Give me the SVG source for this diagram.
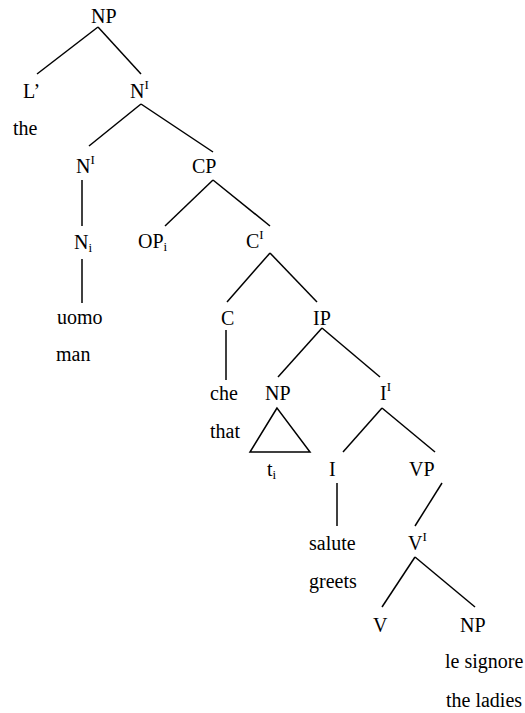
<svg xmlns="http://www.w3.org/2000/svg" width="525" height="713" viewBox="0 0 525 713">
<style>
text{font-family:'Liberation Serif','DejaVu Serif',serif;font-size:20px;fill:#000}
.sup{font-size:13px}
.sub{font-size:13px}
#connectors line,#connectors polygon{stroke:#000;stroke-width:1.5;fill:none}
</style>
<rect width="525" height="713" fill="#fff"/>
<g id="connectors">
<line x1="98" y1="27" x2="37" y2="74"/>
<line x1="98" y1="27" x2="141" y2="74"/>
<line x1="141" y1="104" x2="89" y2="146"/>
<line x1="141" y1="104" x2="213" y2="152"/>
<line x1="82" y1="180" x2="82" y2="226"/>
<line x1="82" y1="259" x2="82" y2="303"/>
<line x1="213" y1="180" x2="165" y2="226"/>
<line x1="213" y1="180" x2="270" y2="226"/>
<line x1="270" y1="253" x2="227" y2="302"/>
<line x1="270" y1="253" x2="317" y2="302"/>
<line x1="226" y1="330" x2="226" y2="380"/>
<line x1="322" y1="328" x2="278" y2="377"/>
<line x1="322" y1="328" x2="380" y2="377"/>
<polygon points="277,408 250,452 310,452"/>
<line x1="382" y1="408" x2="343" y2="452"/>
<line x1="382" y1="408" x2="435" y2="452"/>
<line x1="337" y1="483" x2="337" y2="526"/>
<line x1="442" y1="483" x2="415" y2="526"/>
<line x1="415" y1="557" x2="382" y2="607"/>
<line x1="415" y1="557" x2="475" y2="607"/>
</g>
<g font-family="Liberation Serif, DejaVu Serif, serif">
<g id="np-root"><text x="91" y="23">NP</text></g>
<g id="det"><text x="23" y="98">L’</text><text x="13" y="135">the</text></g>
<g id="nbar1"><text x="130" y="98">N<tspan class="sup" dy="-9">I</tspan></text></g>
<g id="nbar2"><text x="76" y="173">N<tspan class="sup" dy="-9">I</tspan></text></g>
<g id="cp"><text x="192" y="173">CP</text></g>
<g id="ni"><text x="74" y="249">N<tspan class="sub" dy="3">i</tspan></text></g>
<g id="uomo"><text x="57" y="324">uomo</text><text x="56" y="361">man</text></g>
<g id="op"><text x="138" y="248">OP<tspan class="sub" dy="3">i</tspan></text></g>
<g id="cbar"><text x="246" y="248">C<tspan class="sup" dy="-9">I</tspan></text></g>
<g id="c"><text x="221" y="325">C</text></g>
<g id="ip"><text x="313" y="325">IP</text></g>
<g id="che"><text x="210" y="400">che</text><text x="210" y="438">that</text></g>
<g id="np-trace"><text x="265" y="400">NP</text></g>
<g id="trace"><text x="267" y="476">t<tspan class="sub" dy="3">i</tspan></text></g>
<g id="ibar"><text x="380" y="400">I<tspan class="sup" dy="-9">I</tspan></text></g>
<g id="i"><text x="329" y="476">I</text></g>
<g id="vp"><text x="409" y="476">VP</text></g>
<g id="salute"><text x="309" y="550">salute</text><text x="309" y="588">greets</text></g>
<g id="vbar"><text x="408" y="550">V<tspan class="sup" dy="-9">I</tspan></text></g>
<g id="v"><text x="373" y="632">V</text></g>
<g id="np-obj"><text x="460" y="632">NP</text></g>
<g id="signore"><text x="445" y="668">le signore</text><text x="446" y="707">the ladies</text></g>
</g>
</svg>
